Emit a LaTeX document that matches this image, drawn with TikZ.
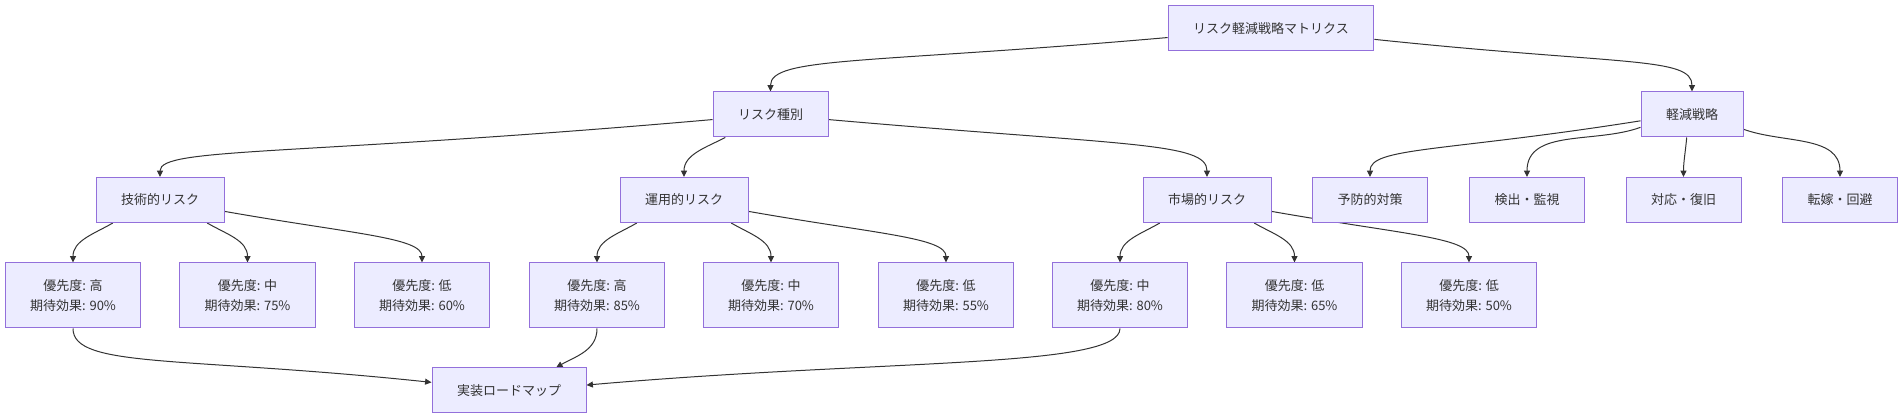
\documentclass[tikz,border=0pt]{standalone}
\usepackage{fontspec}
\setmainfont{Noto Sans CJK JP}
\usetikzlibrary{arrows.meta, backgrounds}
\definecolor{cfill}{HTML}{ECECFF}
\definecolor{cline}{HTML}{9370DB}
\definecolor{cedge}{HTML}{333333}
\tikzset{
  every picture/.style={font=\fontsize{9.75pt}{15pt}\selectfont, line width=0.75pt},
  box/.style={draw=cline, fill=cfill, text=cedge, align=center, inner xsep=18.75pt, inner ysep=0pt, minimum height=33.75pt},
  prio/.style={box, minimum width=99.75pt, minimum height=48.75pt},
  arrow/.style={-{Triangle[length=4.8pt, width=4.5pt]}, draw=cedge, line width=0.75pt},
}

\begin{document}
\begin{tikzpicture}[x=0.75pt, y=0.75pt]
  \useasboundingbox (0,0) rectangle (1904,-420);
  \node[box] (root) at (1271,-28.5) {リスク軽減戦略マトリクス};
  \node[box] (kind) at (770.5,-114.5) {リスク種別};
  \node[box] (mit) at (1692,-114.5) {軽減戦略};
  \node[box] (tech) at (160,-200) {技術的リスク};
  \node[box] (ops) at (684,-200) {運用的リスク};
  \node[box] (mkt) at (1207,-200) {市場的リスク};
  \node[box] (prev) at (1370,-200) {予防的対策};
  \node[box] (det) at (1527,-200) {検出・監視};
  \node[box] (resp) at (1683.5,-200) {対応・復旧};
  \node[box] (trans) at (1840,-200) {転嫁・回避};
  \node[prio] (t1) at (73,-295.5) {優先度: 高\\期待効果: 90\%};
  \node[prio] (t2) at (247.5,-295.5) {優先度: 中\\期待効果: 75\%};
  \node[prio] (t3) at (422,-295.5) {優先度: 低\\期待効果: 60\%};
  \node[prio] (o1) at (597,-295.5) {優先度: 高\\期待効果: 85\%};
  \node[prio] (o2) at (771,-295.5) {優先度: 中\\期待効果: 70\%};
  \node[prio] (o3) at (946,-295.5) {優先度: 低\\期待効果: 55\%};
  \node[prio] (m1) at (1120,-295.5) {優先度: 中\\期待効果: 80\%};
  \node[prio] (m2) at (1294.5,-295.5) {優先度: 低\\期待効果: 65\%};
  \node[prio] (m3) at (1469,-295.5) {優先度: 低\\期待効果: 50\%};
  \node[box] (road) at (509,-390.5) {実装ロードマップ};

  \begin{scope}[on background layer]
    \draw[arrow] (root.185) .. controls +(185:300) and +(90:35) .. (kind.north);
    \draw[arrow] (root.354) .. controls +(354:250) and +(90:35) .. (mit.north);
    \draw[arrow] (kind.185) .. controls +(185:420) and +(90:30) .. (tech.north);
    \draw[arrow] (kind.207) to[out=207, in=90] (ops.north);
    \draw[arrow] (kind.355) .. controls +(355:300) and +(90:35) .. (mkt.north);
    \draw[arrow] (mit.187) .. controls +(189:200) and +(90:30) .. (prev.north);
    \draw[arrow] (mit.194) to[out=200, in=90] (det.north);
    \draw[arrow] (mit.257) to[out=265, in=90] (resp.north);
    \draw[arrow] (mit.344) to[out=340, in=90] (trans.north);
    \draw[arrow] (tech.206) to[out=210, in=90] (t1.north);
    \draw[arrow] (tech.334) to[out=330, in=90] (t2.north);
    \draw[arrow] (tech.350) .. controls +(350:130) and +(90:25) .. (t3.north);
    \draw[arrow] (ops.206) to[out=210, in=90] (o1.north);
    \draw[arrow] (ops.334) to[out=330, in=90] (o2.north);
    \draw[arrow] (ops.350) .. controls +(350:130) and +(90:25) .. (o3.north);
    \draw[arrow] (mkt.206) to[out=210, in=90] (m1.north);
    \draw[arrow] (mkt.334) to[out=330, in=90] (m2.north);
    \draw[arrow] (mkt.350) .. controls +(350:130) and +(90:25) .. (m3.north);
    \draw[arrow] (t1.south) .. controls +(270:40) and +(174:250) .. (road.174);
    \draw[arrow] (o1.south) to[out=270, in=30] (road.26);
    \draw[arrow] (m1.south) .. controls +(270:40) and +(5:300) .. (road.4);
  \end{scope}
\end{tikzpicture}
\end{document}
